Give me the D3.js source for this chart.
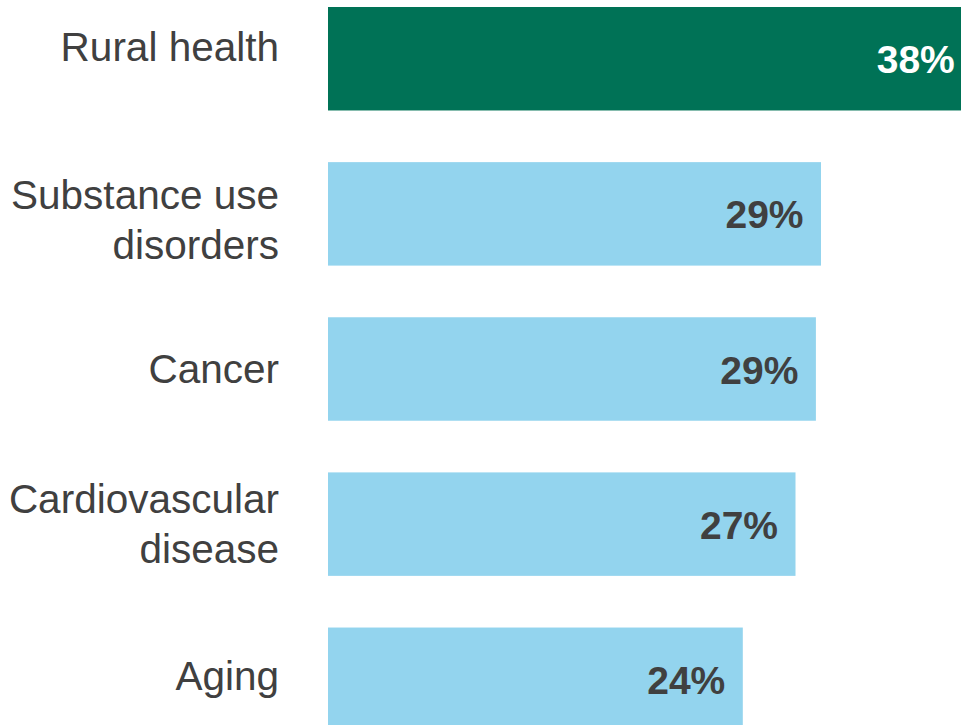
<!DOCTYPE html>
<html>
<head>
<meta charset="utf-8">
<script src="https://cdn.jsdelivr.net/npm/d3@7"></script>
<style>
  html, body { margin: 0; padding: 0; background: #ffffff; overflow: hidden; }
  svg { display: block; }
</style>
</head>
<body>
<div id="chart"></div>
<script>
// ---- data ----
const categories = [
  ["Rural health"],
  ["Substance use", "disorders"],
  ["Cancer"],
  ["Cardiovascular", "disease"],
  ["Aging"]
];
const values = [37.9, 29.0, 28.7, 27.5, 24.4];
const valueLabels = ["38%", "29%", "29%", "27%", "24%"];
const highlight = [true, false, false, false, false];

// ---- layout ----
const W = 961, H = 725;
const svg = d3.select("#chart").append("svg")
  .attr("width", W).attr("height", H)
  .attr("viewBox", `0 0 ${W} ${H}`);

const keys = categories.map(c => c.join(" "));
const y = d3.scaleBand()
  .domain(keys)
  .range([7, 731])
  .paddingInner(0.333)
  .paddingOuter(0);

const x = d3.scaleLinear()
  .domain([0, 40])
  .range([328, 328 + 17.0 * 40]);

const labelFont = "'Liberation Sans', Arial, sans-serif";
const textColor = "#404040";
const nudge = [-12, 6, 0, 0, -3];

// bars
svg.selectAll("rect.bar")
  .data(values)
  .join("rect")
  .attr("class", "bar")
  .attr("x", x(0))
  .attr("y", (d, i) => y(keys[i]))
  .attr("width", d => x(d) - x(0))
  .attr("height", y.bandwidth())
  .attr("fill", (d, i) => highlight[i] ? "#007256" : "#93d4ee");

// value labels
svg.selectAll("text.val")
  .data(values)
  .join("text")
  .attr("class", "val")
  .attr("x", d => x(d) - 17.5)
  .attr("y", (d, i) => y(keys[i]) + y.bandwidth() / 2 + 14.5)
  .attr("text-anchor", "end")
  .attr("font-family", labelFont)
  .attr("font-weight", "bold")
  .attr("font-size", 39)
  .attr("fill", (d, i) => highlight[i] ? "#ffffff" : textColor)
  .text((d, i) => valueLabels[i]);

// category labels
const lineGap = 50.5;
const cat = svg.selectAll("text.cat")
  .data(categories)
  .join("text")
  .attr("class", "cat")
  .attr("text-anchor", "end")
  .attr("font-family", labelFont)
  .attr("font-size", 40.5)
  .attr("fill", textColor)
  .attr("transform", (d, i) => {
    const c = y(keys[i]) + y.bandwidth() / 2 + nudge[i];
    const first = c + 14 - (d.length - 1) * lineGap / 2;
    return `translate(279,${first})`;
  });
cat.selectAll("tspan")
  .data(d => d)
  .join("tspan")
  .attr("x", 0)
  .attr("y", (d, j) => j * lineGap)
  .text(d => d);
</script>
</body>
</html>
